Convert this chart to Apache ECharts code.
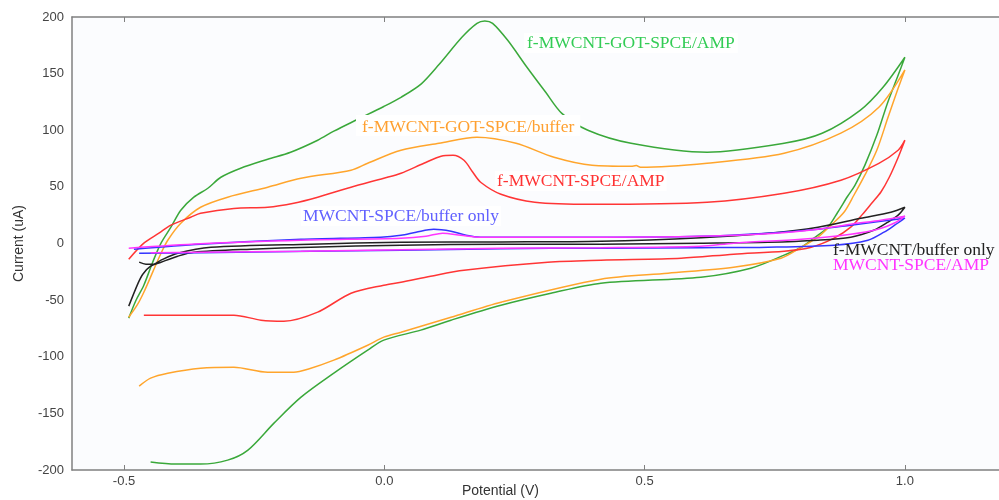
<!DOCTYPE html>
<html><head><meta charset="utf-8">
<script src="https://cdn.jsdelivr.net/npm/echarts@6/dist/echarts.min.js"></script>
<style>html,body{margin:0;padding:0;background:#fff}#c{width:999px;height:500px}</style>
</head><body><div id="c"></div>
<script>
const xTicks = [-0.5, 0.0, 0.5, 1.0];
const seriesNames = ['f-MWCNT-GOT-SPCE/AMP','f-MWCNT-GOT-SPCE/buffer','f-MWCNT-SPCE/AMP','f-MWCNT/buffer only','MWCNT-SPCE/buffer only','MWCNT-SPCE/AMP'];

// [potential V, current uA]
const gotAmp = [[-0.491,-65.9],[-0.477,-50.1],[-0.462,-36.8],[-0.445,-16.5],[-0.429,0.3],[-0.410,14.4],[-0.391,29.4],[-0.366,40.9],[-0.339,48.8],[-0.314,58.5],[-0.276,66.5],[-0.224,74.4],[-0.180,80.6],[-0.128,91.2],[-0.097,99.2],[-0.051,109.7],[-0.001,121.0],[0.032,129.1],[0.071,141.0],[0.105,158.0],[0.149,182.1],[0.178,194.4],[0.193,196.5],[0.208,194.4],[0.237,179.4],[0.274,155.6],[0.310,133.5],[0.341,114.9],[0.391,100.0],[0.474,88.5],[0.620,80.6],[0.768,88.5],[0.841,97.3],[0.914,117.6],[0.958,138.0],[1.0,164.5],
  [0.987,148.5],[0.967,124.6],[0.946,95.5],[0.923,69.0],[0.904,51.4],[0.890,41.7],[0.871,27.6],[0.852,14.4],[0.825,4.7],[0.801,-3.3],[0.768,-10.3],[0.704,-21.8],[0.608,-29.7],[0.416,-35.0],[0.320,-43.9],[0.224,-54.5],[0.128,-67.7],[0.070,-76.5],[-0.001,-85.3],[-0.032,-94.2],[-0.097,-114.5],[-0.160,-135.7],[-0.212,-158.6],[-0.262,-182.4],[-0.301,-191.3],[-0.353,-194.8],[-0.401,-194.8],[-0.449,-193.0]];

const gotBuffer = [[-0.491,-65.1],[-0.475,-54.5],[-0.462,-43.0],[-0.445,-25.3],[-0.429,-8.6],[-0.416,2.9],[-0.391,17.9],[-0.353,32.0],[-0.301,40.9],[-0.224,49.7],[-0.160,57.6],[-0.064,64.7],[-0.032,70.9],[0.032,82.3],[0.105,88.5],[0.178,93.8],[0.253,88.5],[0.326,76.2],[0.399,69.1],[0.474,68.2],[0.484,68.8],[0.492,67.3],[0.620,70.9],[0.768,79.7],[0.877,97.4],[0.950,120.3],[1.0,153.3],
  [0.987,137.0],[0.967,110.5],[0.946,82.3],[0.923,60.3],[0.902,42.6],[0.883,27.6],[0.858,16.2],[0.833,5.6],[0.801,-3.3],[0.762,-13.0],[0.671,-20.9],[0.545,-26.2],[0.416,-31.5],[0.224,-51.8],[0.128,-65.1],[0.032,-78.3],[-0.001,-82.7],[-0.032,-89.8],[-0.097,-103.0],[-0.147,-111.0],[-0.174,-113.6],[-0.224,-113.6],[-0.289,-109.2],[-0.353,-110.1],[-0.416,-114.5],[-0.449,-118.9],[-0.471,-126.0]];

const spceAmp = [[-0.491,-13.9],[-0.462,0.3],[-0.433,9.1],[-0.410,16.2],[-0.372,23.2],[-0.353,26.7],[-0.289,31.0],[-0.224,32.0],[-0.174,35.6],[-0.128,40.9],[-0.064,49.7],[-0.001,57.6],[0.032,62.0],[0.076,70.9],[0.109,77.1],[0.132,77.9],[0.153,73.5],[0.170,62.9],[0.185,54.1],[0.224,43.5],[0.289,36.5],[0.399,34.7],[0.620,36.5],[0.768,44.4],[0.877,55.9],[0.950,70.8],[0.987,82.3],[1.0,91.2],
  [0.987,76.0],[0.970,58.5],[0.954,45.5],[0.937,36.0],[0.918,25.5],[0.896,14.4],[0.864,4.7],[0.820,-3.3],[0.768,-6.8],[0.671,-9.4],[0.570,-13.0],[0.416,-14.7],[0.314,-16.5],[0.153,-23.6],[0.089,-28.9],[0.032,-34.2],[-0.001,-36.8],[-0.064,-43.9],[-0.128,-60.6],[-0.193,-68.6],[-0.237,-67.7],[-0.289,-63.3],[-0.385,-63.3],[-0.462,-63.3]];

const fBuffer = [[-0.491,-55.3],[-0.473,-35.0],[-0.464,-27.1],[-0.449,-20.0],[-0.429,-16.5],[-0.397,-11.2],[-0.366,-7.7],[-0.256,-5.0],[-0.141,-3.3],[0.032,-1.5],[0.224,-0.6],[0.416,-0.6],[0.608,0.3],[0.737,1.1],[0.833,2.9],[0.896,5.6],[0.940,11.7],[0.967,18.8],[0.987,25.0],[1.0,32.0],
  [0.973,27.6],[0.915,22.3],[0.833,14.4],[0.737,9.1],[0.608,5.1],[0.416,2.0],[0.224,1.4],[0.032,1.1],[-0.141,-0.6],[-0.333,-3.3],[-0.397,-8.6],[-0.429,-14.7],[-0.443,-18.3],[-0.458,-18.3],[-0.471,-16.5]];

const spceBuffer = [[-0.481,-5.0],[-0.353,-0.6],[-0.160,3.8],[-0.007,5.6],[0.032,7.3],[0.061,10.0],[0.095,12.6],[0.128,10.9],[0.157,7.3],[0.185,5.6],[0.416,5.6],[0.608,6.4],[0.737,9.1],[0.833,12.6],[0.896,16.2],[0.954,19.7],[1.0,22.3],
  [0.983,17.0],[0.960,10.0],[0.929,2.9],[0.864,-1.5],[0.737,-3.3],[0.608,-3.7],[0.416,-4.1],[0.224,-4.6],[0.032,-5.9],[-0.141,-6.8],[-0.353,-8.1],[-0.471,-8.6]];

const mwAmp = [[-0.491,-4.1],[-0.353,-0.2],[-0.160,2.9],[0.032,4.7],[0.080,6.4],[0.112,9.1],[0.147,7.3],[0.185,5.6],[0.416,5.6],[0.608,6.4],[0.737,8.6],[0.833,12.6],[0.896,17.1],[0.954,20.6],[1.0,24.1],
  [0.983,18.8],[0.948,12.6],[0.896,8.2],[0.801,3.8],[0.671,0.3],[0.608,-2.4],[0.416,-3.7],[0.224,-4.1],[0.032,-5.5],[-0.160,-6.8],[-0.353,-7.7],[-0.449,-8.1]];

const lineColors = ['#3aa83a','#ffa52c','#ff3535','#222222','#3535ff','#ff35ff'];
const labelColors = ['#33cc55','#ffa030','#ff3333','#222222','#6262ff','#ff33ff'];
const allData = [gotAmp, gotBuffer, spceAmp, fBuffer, spceBuffer, mwAmp];

const chart = echarts.init(document.getElementById('c'), null, {renderer:'canvas'});
const serif = '17.5px "Liberation Serif", "Times New Roman", serif';
function lab(i, left, top, bg, pad){
  return {type:'text', left:left, top:top, z:100,
    style:{text:seriesNames[i], fill:labelColors[i], font:serif,
      backgroundColor: bg ? '#ffffff' : null, padding: pad || 0}};
}
chart.setOption({
  animation:false,
  backgroundColor:'#ffffff',
  grid:{left:72, top:17, width:937, height:453, show:true, backgroundColor:'#fbfcfe', borderWidth:0, outerBoundsMode:'none', containLabel:false},
  xAxis:[{
    type:'value', min:-0.6, max:1.2, position:'bottom',
    axisLine:{show:true, onZero:false, lineStyle:{color:'#808080', width:1.5}},
    axisTick:{show:true, inside:true, length:5, customValues:xTicks, lineStyle:{color:'#808080'}},
    axisLabel:{customValues:xTicks, formatter:v=>v.toFixed(1), color:'#444', fontSize:13, fontFamily:'"Liberation Sans", Arial, sans-serif', margin:5},
    splitLine:{show:false}
  },{
    type:'value', min:-0.6, max:1.2, position:'top',
    axisLine:{show:true, onZero:false, lineStyle:{color:'#808080', width:1.5}},
    axisTick:{show:true, inside:true, length:5, customValues:xTicks, lineStyle:{color:'#808080'}},
    axisLabel:{show:false}, splitLine:{show:false}
  }],
  yAxis:{
    type:'value', min:-200, max:200, interval:50,
    name:'Current (uA)', nameLocation:'middle', nameGap:46, nameRotate:90,
    nameTextStyle:{color:'#333', fontSize:14, fontFamily:'"Liberation Sans", Arial, sans-serif'},
    axisLine:{show:true, onZero:false, lineStyle:{color:'#808080', width:1.5}},
    axisTick:{show:false},
    axisLabel:{color:'#444', fontSize:13, fontFamily:'"Liberation Sans", Arial, sans-serif', margin:8},
    splitLine:{show:false}
  },
  series: allData.map((d,i)=>({
    name:seriesNames[i], type:'line', data:d, xAxisIndex:0, showSymbol:false, smooth:0.3,
    lineStyle:{color:lineColors[i], width:1.5}, itemStyle:{color:lineColors[i]}, z:2+i
  })),
  graphic:[
    lab(0, 524, 33, true, [1,3]),
    lab(1, 356, 115, true, [3,6,0,6]),
    lab(2, 495, 171, true, [1,2]),
    lab(3, 833, 241, false),
    lab(4, 301, 206, true, [1,2]),
    lab(5, 833, 256, false),
    {type:'text', left:462, top:484, z:100, style:{text:'Potential (V)', fill:'#333', font:'14px "Liberation Sans", Arial, sans-serif'}}
  ]
});
</script></body></html>
